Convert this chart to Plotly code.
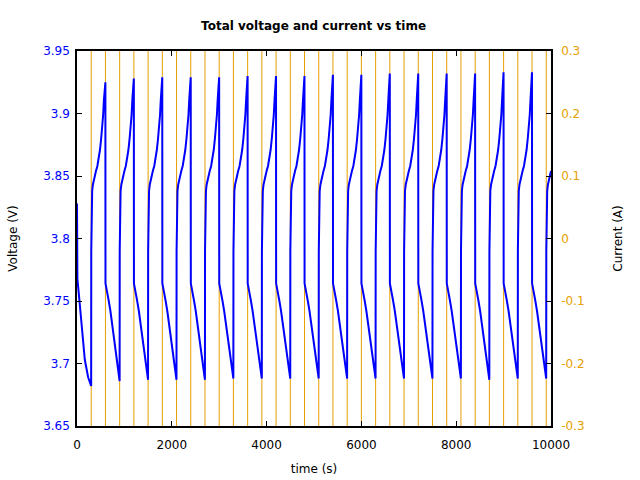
import plotly.graph_objects as go

# ---------------- data ----------------
# phase switching times (s): even index = discharge, odd index = charge
phase_start_s = [0, 300, 600, 900, 1200, 1500, 1800, 2100, 2400, 2700, 3000,
                 3300, 3600, 3900, 4200, 4500, 4800, 5100, 5400, 5700, 6000,
                 6300, 6600, 6900, 7200, 7500, 7800, 8100, 8400, 8700, 9000,
                 9300, 9600, 9900]
end_time_s = 10000
discharge_current_a = -1.0
charge_current_a = 1.0

# first discharge (starts from rest)
first_discharge_t = [0, 3, 8, 50, 110, 165, 235, 285, 299]
first_discharge_v = [3.828, 3.780, 3.768, 3.751, 3.724, 3.703, 3.689, 3.683, 3.682]

# typical discharge curve read from a mid cycle (offset from switch time)
discharge_offsets_s = [1, 20, 45, 70, 105, 141, 176, 211, 240, 260, 280, 299]
discharge_shape_v = [3.764, 3.759, 3.755, 3.750, 3.742, 3.732, 3.722, 3.711, 3.701, 3.695, 3.690, 3.687]

# typical charge curve read from a mid cycle (offset from switch time)
charge_offsets_s = [1, 4, 10, 20, 35, 60, 100, 130, 160, 185, 210, 232, 252, 268, 285, 299]
charge_shape_v = [3.790, 3.815, 3.830, 3.838, 3.843, 3.848, 3.854, 3.858, 3.864, 3.871,
                  3.880, 3.889, 3.899, 3.911, 3.921, 3.929]

# end-of-charge peaks and end-of-discharge minima per cycle
cycle_peak_v = [3.925, 3.928, 3.929, 3.929, 3.929, 3.930, 3.930, 3.930,
                3.931, 3.931, 3.932, 3.932, 3.932, 3.932, 3.933, 3.933]
cycle_min_v = [3.682, 3.686, 3.687, 3.687, 3.687, 3.688, 3.688, 3.688, 3.688,
               3.688, 3.688, 3.688, 3.688, 3.688, 3.687, 3.688, 3.688]

time_ticks = [0, 2000, 4000, 6000, 8000, 10000]
time_tick_text = ["0", "2000", "4000", "6000", "8000", "10000"]
volt_ticks = [3.65, 3.7, 3.75, 3.8, 3.85, 3.9, 3.95]
volt_tick_text = ["3.65", "3.7", "3.75", "3.8", "3.85", "3.9", "3.95"]
curr_ticks = [-0.3, -0.2, -0.1, 0, 0.1, 0.2, 0.3]
curr_tick_text = ["-0.3", "-0.2", "-0.1", "0", "0.1", "0.2", "0.3"]

BLUE = "#0000FF"
ORANGE = "#E69F00"

# ---------------- build the voltage series ----------------
t_v = []
v_v = []
for i, start in enumerate(phase_start_s):
    stop = phase_start_s[i + 1] if i + 1 < len(phase_start_s) else end_time_s
    if i == 0:
        t_v += first_discharge_t
        v_v += first_discharge_v[:-1] + [cycle_min_v[0]]
        continue
    if i % 2 == 0:
        offs, vals = discharge_offsets_s, list(discharge_shape_v)
        vals[-1] = cycle_min_v[i // 2]
    else:
        offs, vals = charge_offsets_s, list(charge_shape_v)
        if i // 2 < len(cycle_peak_v):
            vals[-1] = cycle_peak_v[i // 2]
    for o, val in zip(offs, vals):
        if start + o <= stop:
            t_v.append(start + o)
            v_v.append(val)

# current step series
t_i = phase_start_s + [end_time_s]
i_i = [discharge_current_a if k % 2 == 0 else charge_current_a for k in range(len(phase_start_s))]
i_i = i_i + [i_i[-1]]

fig = go.Figure()
fig.add_trace(go.Scatter(x=t_i, y=i_i, mode="lines", line=dict(color=ORANGE, width=1, shape="hv"),
                         yaxis="y", showlegend=False, hoverinfo="skip"))
fig.add_trace(go.Scatter(x=t_v, y=v_v, mode="lines", line=dict(color=BLUE, width=2),
                         yaxis="y2", showlegend=False))

axis_common = dict(ticks="inside", ticklen=5, tickcolor="black", showline=True,
                   linecolor="black", linewidth=1.5, showgrid=False, zeroline=False,
                   automargin=False)

fig.update_layout(
    width=640, height=480,
    margin=dict(l=77, r=89, t=51, b=54),
    paper_bgcolor="white", plot_bgcolor="white",
    font=dict(family="DejaVu Sans", size=12, color="black"),
    title=dict(text="<b>Total voltage and current vs time</b>", x=0.49, xanchor="center",
               y=1 - 26 / 480, yanchor="middle", font=dict(size=12)),
    xaxis=dict(range=[0, 10000], tickvals=time_ticks, ticktext=time_tick_text,
               mirror="ticks", ticklabelstandoff=7,
               title=dict(text="time (s)", standoff=13, font=dict(size=12)), **axis_common),
    # current axis (right, drawn underneath)
    yaxis=dict(range=[-0.3, 0.3], tickvals=curr_ticks, ticktext=curr_tick_text,
               tickfont=dict(color=ORANGE), side="right", ticklabelstandoff=6,
               title=dict(text="Current (A)", standoff=30, font=dict(size=12)), **axis_common),
    # voltage axis (left, drawn on top)
    yaxis2=dict(range=[3.65, 3.95], tickvals=volt_ticks, ticktext=volt_tick_text,
                tickfont=dict(color=BLUE), side="left", overlaying="y", ticklabelstandoff=3,
                title=dict(text="Voltage (V)", standoff=23, font=dict(size=12)), **axis_common),
)
fig.write_html("out.html")
